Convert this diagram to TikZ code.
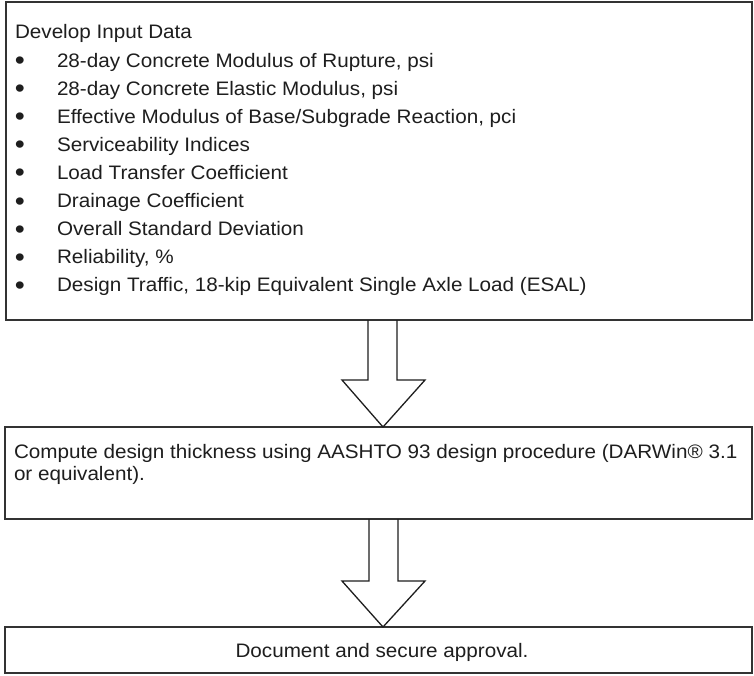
\documentclass[tikz,border=0pt]{standalone}
\usepackage{fontspec}
\setmainfont{Liberation Sans}[FakeStretch=1.06]
\definecolor{ink}{HTML}{1E1E1E}
\definecolor{frame}{HTML}{333333}
\begin{document}
\begin{tikzpicture}[x=1pt,y=-1pt,
  box/.style={draw=frame,line width=2pt,fill=none,inner sep=0pt,outer sep=0pt,rectangle},
  txt/.style={text=ink,inner sep=0pt,outer sep=0pt,anchor=base west,font=\fontsize{19.5pt}{22pt}\selectfont},
  ctxt/.style={text=ink,inner sep=0pt,outer sep=0pt,anchor=base,font=\fontsize{19.5pt}{22pt}\selectfont},
  bul/.style={text=ink,inner sep=0pt,outer sep=0pt,anchor=base,yshift=-2.5pt,font=\fontsize{27pt}{27pt}\selectfont},
  blockarrow/.style={draw=ink,line width=1.3pt,line join=miter}]
\useasboundingbox (0,0) rectangle (754,675);
\fill[white] (0,0) rectangle (754,675);
% boxes
\node[box,minimum width=746pt,minimum height=318pt] (b1) at (379,161) {};
\node[box,minimum width=747pt,minimum height=92pt] (b2) at (378.5,473) {};
\node[box,minimum width=747pt,minimum height=46pt] (b3) at (378.5,650) {};
% top box text
\node[txt] (head) at (15,38) {Develop Input Data};
\node[bul] (u1) at (20,67.0) {•};  \node[txt] (i1) at (57,67.0) {28-day Concrete Modulus of Rupture, psi};
\node[bul] (u2) at (20,95.1) {•};  \node[txt] (i2) at (57,95.1) {28-day Concrete Elastic Modulus, psi};
\node[bul] (u3) at (20,123.2) {•}; \node[txt] (i3) at (57,123.2) {Effective Modulus of Base/Subgrade Reaction, pci};
\node[bul] (u4) at (20,151.3) {•}; \node[txt] (i4) at (57,151.3) {Serviceability Indices};
\node[bul] (u5) at (20,179.4) {•}; \node[txt] (i5) at (57,179.4) {Load Transfer Coefficient};
\node[bul] (u6) at (20,207.5) {•}; \node[txt] (i6) at (57,207.5) {Drainage Coefficient};
\node[bul] (u7) at (20,235.6) {•}; \node[txt] (i7) at (57,235.6) {Overall Standard Deviation};
\node[bul] (u8) at (20,263.7) {•}; \node[txt] (i8) at (57,263.7) {Reliability, \%};
\node[bul] (u9) at (20,291.8) {•}; \node[txt] (i9) at (57,291.8) {Design Traffic, 18-kip Equivalent Single Axle Load (ESAL)};
% middle box text
\node[txt] (m1) at (14,458) {Compute design thickness using AASHTO 93 design procedure (DARWin® 3.1};
\node[txt] (m2) at (14,480) {or equivalent).};
% bottom box text
\node[ctxt] (d1) at (382,657) {Document and secure approval.};
% block arrows
\draw[blockarrow] (368,0 |- b1.south) -- (368,380) -- (342,380) -- (383,0 |- b2.north)
  -- (425,380) -- (397,380) -- (397,0 |- b1.south);
\draw[blockarrow] (369,0 |- b2.south) -- (369,581) -- (342,581) -- (383,0 |- b3.north)
  -- (425,581) -- (398,581) -- (398,0 |- b2.south);
\end{tikzpicture}
\end{document}
